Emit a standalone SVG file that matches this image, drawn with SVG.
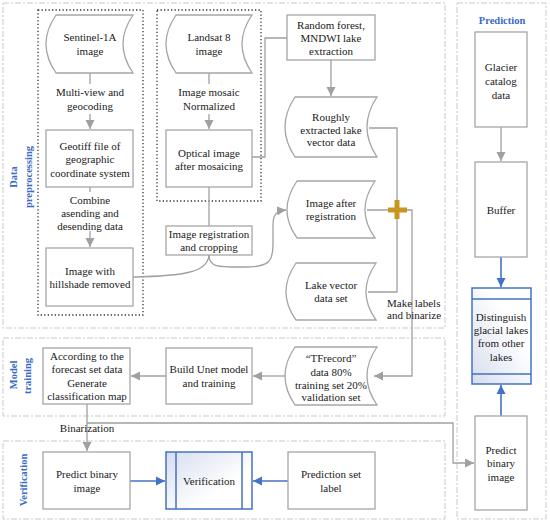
<svg xmlns="http://www.w3.org/2000/svg" width="550" height="524" viewBox="0 0 550 524">
<style>
  text { font-family: 'Liberation Serif', 'Times New Roman', serif; font-size: 11px; fill: #1a1a1a; text-anchor: middle; }
  .lbl { font-weight: bold; fill: #3A6BC8; font-size: 10.5px; }
  .cont { fill: none; stroke: #C9C9C9; stroke-width: 1; stroke-dasharray: 6 2 2 2; }
  .dot { fill: none; stroke: #333; stroke-width: 1.3; stroke-dasharray: 1.3 2.2; }
  .box { fill: #fff; stroke: #A6A6A6; stroke-width: 1.3; }
  .bbox { stroke: #4472C4; stroke-width: 1.5; }
  .ln { fill: none; stroke: #A0A0A0; stroke-width: 1.3; }
  .ar { fill: none; stroke: #A0A0A0; stroke-width: 1.3; marker-end: url(#ga); }
  .bar { fill: none; stroke: #4472C4; stroke-width: 1.6; marker-end: url(#ba); }
</style>
<defs>
  <marker id="ga" markerUnits="userSpaceOnUse" markerWidth="10" markerHeight="10" refX="9" refY="5" orient="auto">
    <path d="M0,0.5 L9,5 L0,9.5 z" fill="#A0A0A0"/>
  </marker>
  <marker id="ba" markerUnits="userSpaceOnUse" markerWidth="10" markerHeight="10" refX="9" refY="5" orient="auto">
    <path d="M0,0.5 L9,5 L0,9.5 z" fill="#4472C4"/>
  </marker>
  <linearGradient id="gv" x1="0" y1="0" x2="1" y2="1">
    <stop offset="0" stop-color="#D6DDEE"/>
    <stop offset="0.65" stop-color="#FFFFFF"/>
  </linearGradient>
  <linearGradient id="gd" x1="0" y1="1" x2="1" y2="0">
    <stop offset="0" stop-color="#D6DDEE"/>
    <stop offset="0.65" stop-color="#FFFFFF"/>
  </linearGradient>
</defs>

<g id="containers">
  <rect class="cont" x="3" y="3" width="442" height="325"/>
  <rect class="cont" x="3" y="338" width="442" height="78"/>
  <rect class="cont" x="3" y="441" width="442" height="78"/>
  <rect class="cont" x="457" y="3" width="89" height="516"/>
  <rect class="dot" x="38" y="10" width="105" height="305"/>
  <rect class="dot" x="157" y="10" width="104" height="191"/>
  <text class="lbl" transform="translate(17,177) rotate(-90)">Data</text>
  <text class="lbl" transform="translate(32,177) rotate(-90)">preprocessing</text>
  <text class="lbl" transform="translate(17,375) rotate(-90)">Model</text>
  <text class="lbl" transform="translate(31,376) rotate(-90)">training</text>
  <text class="lbl" transform="translate(27,480) rotate(-90)">Verification</text>
  <text class="lbl" x="502" y="24">Prediction</text>
</g>

<g id="connectors">
  <path class="ln" d="M90,73 V84"/>
  <path class="ar" d="M90,114 V129"/>
  <path class="ln" d="M90,187 V192"/>
  <path class="ar" d="M90,231 V247"/>
  <path class="ln" d="M209,73 V84"/>
  <path class="ar" d="M209,114 V129"/>
  <path class="ln" d="M209,187 V226"/>
  <path class="ln" d="M252,157 H265 V38 H287"/>
  <path class="ar" d="M331,60 V96"/>
  <path class="ln" d="M133,277 C185,276 208,272 209,255"/>
  <path class="ar" d="M209,255 C209,268 220,267 245,267 C268,267 273,262 273,245 L273,225 C273,215 276,211 286,210"/>
  <path class="ln" d="M369,128 H397 V292 H368"/>
  <path class="ar" d="M367,210 H412 V376 H374"/>
  <path class="ar" d="M285,376 H253"/>
  <path class="ar" d="M166,376 H131"/>
  <path class="ar" d="M87,404 V451"/>
  <path class="ar" d="M87,423 H453 V463 H474"/>
  <path class="bar" d="M130,481 H165"/>
  <path class="bar" d="M288,481 H253"/>
  <path class="ar" d="M501,127 V161"/>
  <path class="bar" d="M501,257 V287"/>
  <path class="bar" d="M501,416 V385"/>
  <g fill="#C8961E">
    <rect x="388" y="207.5" width="19" height="5"/>
    <rect x="394.5" y="200" width="5" height="19"/>
  </g>
  <text x="87" y="432">Binarization</text>
  <text x="90" y="96">Multi-view and</text>
  <text x="90" y="110">geocoding</text>
  <text x="90" y="204">Combine</text>
  <text x="90" y="217">asending and</text>
  <text x="90" y="230">desending data</text>
  <text x="209" y="96">Image mosaic</text>
  <text x="209" y="110">Normalized</text>
  <text x="387" y="307" style="text-anchor:start">Make labels</text>
  <text x="387" y="319" style="text-anchor:start">and binarize</text>
</g>

<g id="sentinel">
  <path class="box" d="M56,15 H133 Q113,44 133,73 H56 Q36,44 56,15 Z"/>
  <text x="90" y="41">Sentinel-1A</text>
  <text x="90" y="55">image</text>
</g>
<g id="landsat">
  <path class="box" d="M176,15 H252 Q232,44 252,73 H176 Q156,44 176,15 Z"/>
  <text x="209" y="41">Landsat 8</text>
  <text x="209" y="55">image</text>
</g>
<g id="geotiff">
  <rect class="box" x="46" y="130" width="87" height="57"/>
  <text x="90" y="150">Geotiff file of</text>
  <text x="90" y="163">geographic</text>
  <text x="90" y="177">coordinate system</text>
</g>
<g id="hillshade">
  <rect class="box" x="46" y="248" width="87" height="58"/>
  <text x="90" y="275">Image with</text>
  <text x="90" y="288">hillshade removed</text>
</g>
<g id="optical">
  <rect class="box" x="166" y="130" width="86" height="57"/>
  <text x="209" y="157">Optical image</text>
  <text x="209" y="170">after mosaicing</text>
</g>
<g id="registration">
  <rect class="box" x="166" y="226" width="86" height="29"/>
  <text x="209" y="238">Image registration</text>
  <text x="209" y="251">and cropping</text>
</g>
<g id="randomforest">
  <rect class="box" x="287" y="15" width="88" height="45"/>
  <text x="331" y="29">Random forest,</text>
  <text x="331" y="42">MNDWI lake</text>
  <text x="331" y="55">extraction</text>
</g>
<g id="roughly">
  <path class="box" d="M295,97 H377 Q357,127 377,157 H295 Q275,127 295,97 Z"/>
  <text x="331" y="121">Roughly</text>
  <text x="331" y="134">extracted lake</text>
  <text x="331" y="146">vector data</text>
</g>
<g id="afterreg">
  <path class="box" d="M297,181 H375 Q355,210 375,238 H297 Q277,210 297,181 Z"/>
  <text x="331" y="207">Image after</text>
  <text x="331" y="220">registration</text>
</g>
<g id="lakevector">
  <path class="box" d="M296,263 H376 Q356,292 376,320 H296 Q276,292 296,263 Z"/>
  <text x="331" y="289">Lake vector</text>
  <text x="331" y="302">data set</text>
</g>
<g id="according">
  <rect class="box" x="43" y="348" width="87" height="56"/>
  <text x="87" y="360">According to the</text>
  <text x="87" y="373">forecast set data</text>
  <text x="87" y="387">Generate</text>
  <text x="87" y="400">classification map</text>
</g>
<g id="unet">
  <rect class="box" x="166" y="348" width="86" height="56"/>
  <text x="209" y="373">Build Unet model</text>
  <text x="209" y="387">and training</text>
</g>
<g id="tfrecord">
  <path class="box" d="M295,347 H377 Q357,376 377,405 H295 Q275,376 295,347 Z"/>
  <text x="331" y="362">“TFrecord”</text>
  <text x="331" y="376">data 80%</text>
  <text x="331" y="389">training set 20%</text>
  <text x="331" y="401">validation set</text>
</g>
<g id="predictbinary">
  <rect class="box" x="43" y="452" width="87" height="57"/>
  <text x="87" y="478">Predict binary</text>
  <text x="87" y="492">image</text>
</g>
<g id="verification">
  <rect class="bbox" fill="url(#gv)" x="166" y="452" width="86" height="57"/>
  <path class="bbox" d="M176,452 V509 M242,452 V509"/>
  <text x="209" y="485">Verification</text>
</g>
<g id="predsetlabel">
  <rect class="box" x="288" y="452" width="87" height="57"/>
  <text x="331" y="478">Prediction set</text>
  <text x="331" y="492">label</text>
</g>
<g id="glacier">
  <rect class="box" x="475" y="32" width="52" height="95"/>
  <text x="501" y="71">Glacier</text>
  <text x="501" y="85">catalog</text>
  <text x="501" y="99">data</text>
</g>
<g id="buffer">
  <rect class="box" x="475" y="162" width="52" height="95"/>
  <text x="501" y="214">Buffer</text>
</g>
<g id="distinguish">
  <rect class="bbox" fill="url(#gd)" x="472" y="288" width="59" height="96"/>
  <path class="bbox" d="M472,299 H531 M472,374 H531"/>
  <text x="501" y="321">Distinguish</text>
  <text x="501" y="334">glacial lakes</text>
  <text x="501" y="347">from other</text>
  <text x="501" y="361">lakes</text>
</g>
<g id="predictbinary2">
  <rect class="box" x="475" y="416" width="52" height="94"/>
  <text x="501" y="454">Predict</text>
  <text x="501" y="467">binary</text>
  <text x="501" y="481">image</text>
</g>
</svg>
